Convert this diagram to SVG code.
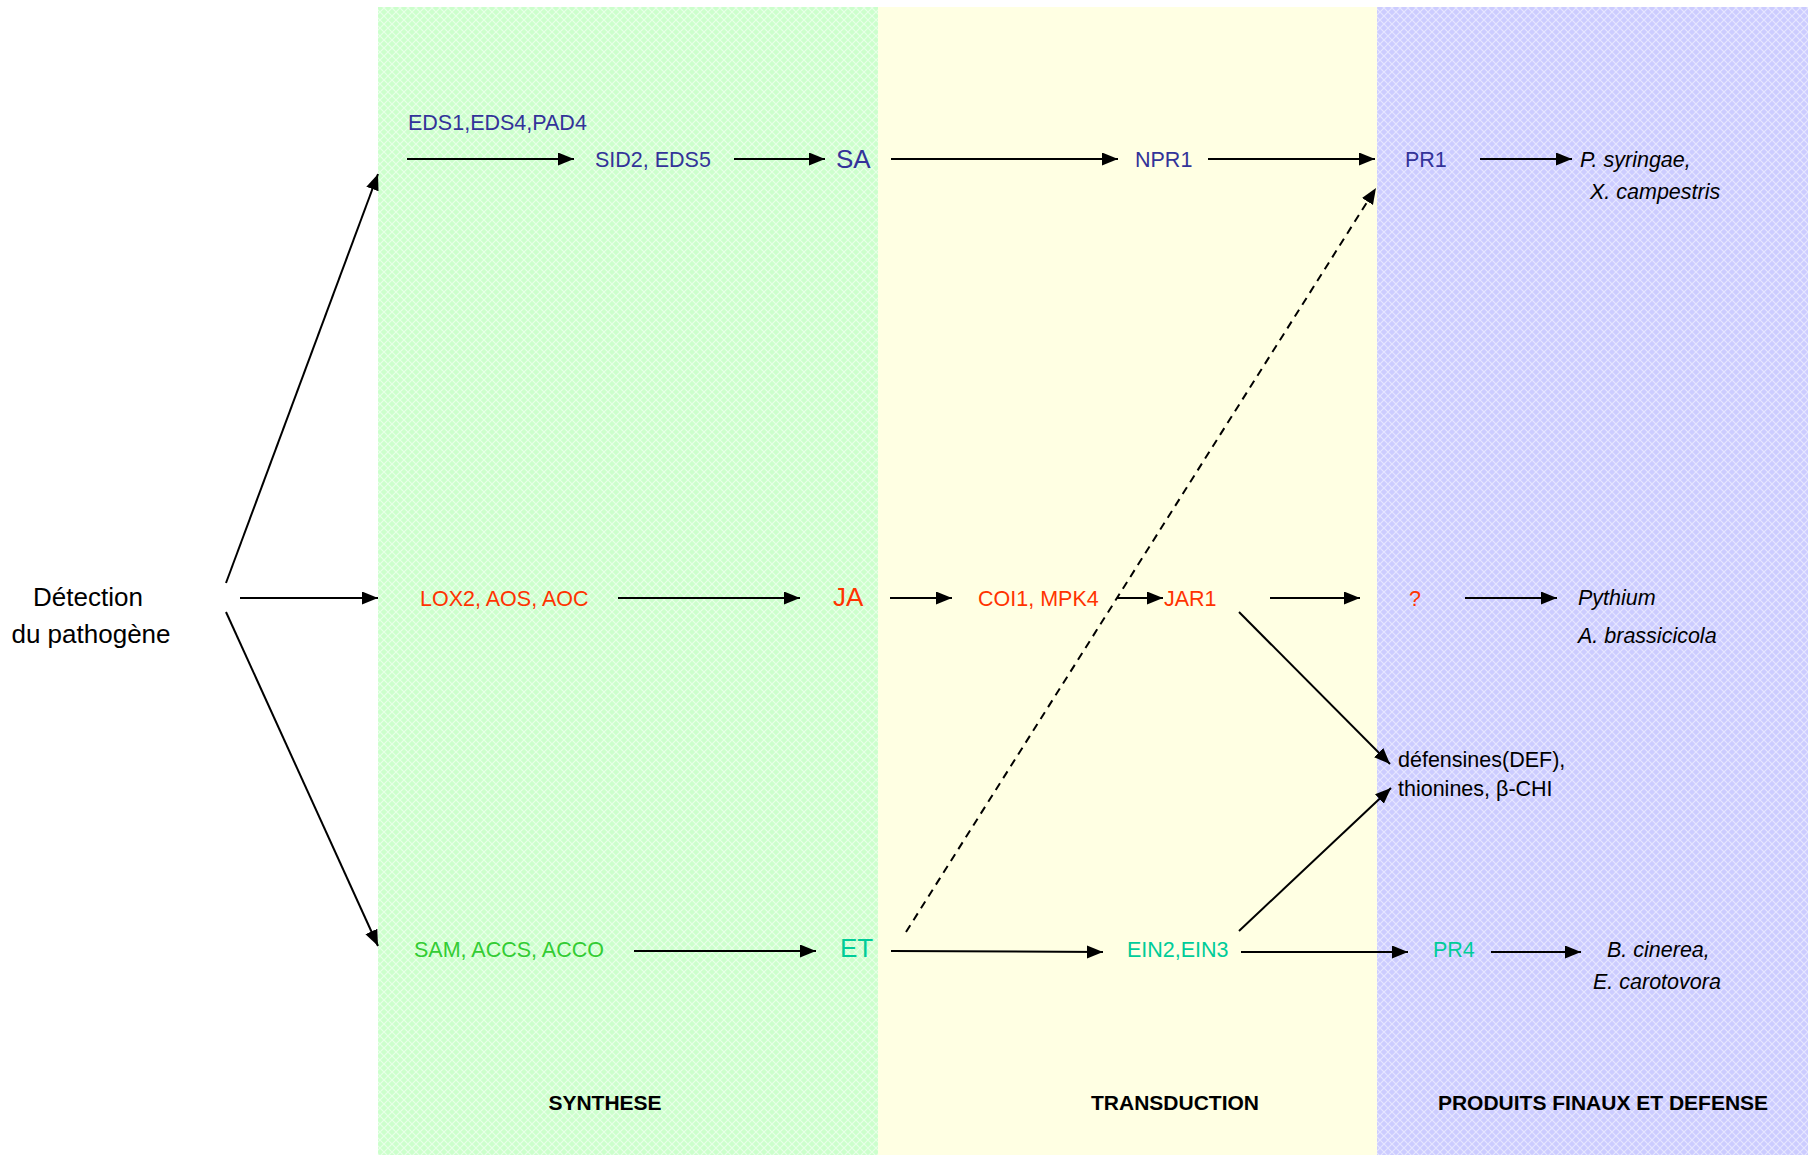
<svg xmlns="http://www.w3.org/2000/svg" width="1816" height="1156" viewBox="0 0 1816 1156">
<style>
text{font-family:"Liberation Sans",Arial,sans-serif;font-size:21.5px}
.b{fill:#333399}.r{fill:#ff3300}.g{fill:#33cc33}.t{fill:#00cc99}.k{fill:#000}
.big{font-size:26px}.it{font-style:italic}.hd{font-weight:bold;fill:#000;font-size:21px}
.c{stroke:#000;stroke-width:2;fill:none;marker-end:url(#ah)}
.d{stroke-dasharray:8,6}
</style>
<defs>
<marker id="ah" markerUnits="userSpaceOnUse" markerWidth="18" markerHeight="14" refX="16" refY="6.5" orient="auto">
<path d="M0,0 L16,6.5 L0,13 z" fill="#000"/>
</marker>
<pattern id="pg" width="8" height="8" patternUnits="userSpaceOnUse">
<rect width="8" height="8" fill="#ccffcc"/>
<path d="M0,0 L8,8 M8,0 L0,8" stroke="#e8ffe8" stroke-width="1.2"/>
</pattern>
<pattern id="pb" width="8" height="8" patternUnits="userSpaceOnUse">
<rect width="8" height="8" fill="#ccccff"/>
<path d="M0,0 L8,8 M8,0 L0,8" stroke="#e6e6ff" stroke-width="1.2"/>
</pattern>
</defs>
<rect width="1816" height="1156" fill="#fff"/>
<g id="panels">
<rect id="synthese" x="378" y="7" width="500" height="1148" fill="url(#pg)"/>
<rect id="transduction" x="878" y="7" width="499" height="1148" fill="#ffffe3"/>
<rect id="produits" x="1377" y="7" width="431" height="1148" fill="url(#pb)"/>
</g>
<g id="headers">
<text class="hd" x="605" y="1110" text-anchor="middle">SYNTHESE</text>
<text class="hd" x="1175" y="1110" text-anchor="middle">TRANSDUCTION</text>
<text class="hd" x="1603" y="1110" text-anchor="middle">PRODUITS FINAUX ET DEFENSE</text>
</g>
<g id="connectors">
<line class="c" x1="226" y1="583" x2="378" y2="174"/>
<line class="c" x1="240" y1="598" x2="378" y2="598"/>
<line class="c" x1="226" y1="612" x2="378" y2="946"/>
<line class="c" x1="407" y1="159" x2="574" y2="159"/>
<line class="c" x1="734" y1="159" x2="825" y2="159"/>
<line class="c" x1="891" y1="159" x2="1118" y2="159"/>
<line class="c" x1="1208" y1="159" x2="1375" y2="159"/>
<line class="c" x1="1480" y1="159" x2="1572" y2="159"/>
<line class="c" x1="618" y1="598" x2="800" y2="598"/>
<line class="c" x1="890" y1="598" x2="952" y2="598"/>
<line class="c" x1="1117" y1="598" x2="1163" y2="598"/>
<line class="c" x1="1270" y1="598" x2="1360" y2="598"/>
<line class="c" x1="1465" y1="598" x2="1557" y2="598"/>
<line class="c" x1="634" y1="951" x2="816" y2="951"/>
<line class="c" x1="891" y1="951" x2="1103" y2="952"/>
<line class="c" x1="1241" y1="952" x2="1408" y2="952"/>
<line class="c" x1="1491" y1="952" x2="1581" y2="952"/>
<line class="c d" x1="906" y1="932" x2="1376" y2="188"/>
<line class="c" x1="1239" y1="612" x2="1390" y2="764"/>
<line class="c" x1="1239" y1="931" x2="1391" y2="788"/>
</g>
<g id="detection"><text class="k big" x="88" y="606" text-anchor="middle">Détection</text><text class="k big" x="91" y="643" text-anchor="middle">du pathogène</text></g>
<g id="eds"><text class="b" x="408" y="130">EDS1,EDS4,PAD4</text></g>
<g id="sid2"><text class="b" x="595" y="167">SID2, EDS5</text></g>
<g id="sa"><text class="b big" x="836" y="168">SA</text></g>
<g id="npr1"><text class="b" x="1135" y="167">NPR1</text></g>
<g id="pr1"><text class="b" x="1405" y="167">PR1</text></g>
<g id="psyringae"><text class="k it" x="1580" y="167">P. syringae,</text><text class="k it" x="1590" y="199">X. campestris</text></g>
<g id="lox2"><text class="r" x="420" y="606">LOX2, AOS, AOC</text></g>
<g id="ja"><text class="r big" x="833" y="606">JA</text></g>
<g id="coi1"><text class="r" x="978" y="606">COI1, MPK4</text></g>
<g id="jar1"><text class="r" x="1164" y="606">JAR1</text></g>
<g id="unknown"><text class="r" x="1409" y="606">?</text></g>
<g id="pythium"><text class="k it" x="1578" y="605">Pythium</text><text class="k it" x="1578" y="643">A. brassicicola</text></g>
<g id="defensines"><text class="k" x="1398" y="767">défensines(DEF),</text><text class="k" x="1398" y="796">thionines, β-CHI</text></g>
<g id="sam"><text class="g" x="414" y="957">SAM, ACCS, ACCO</text></g>
<g id="et"><text class="t big" x="840" y="957">ET</text></g>
<g id="ein2"><text class="t" x="1127" y="957">EIN2,EIN3</text></g>
<g id="pr4"><text class="t" x="1433" y="957">PR4</text></g>
<g id="bcinerea"><text class="k it" x="1607" y="957">B. cinerea,</text><text class="k it" x="1593" y="989">E. carotovora</text></g>
</svg>
